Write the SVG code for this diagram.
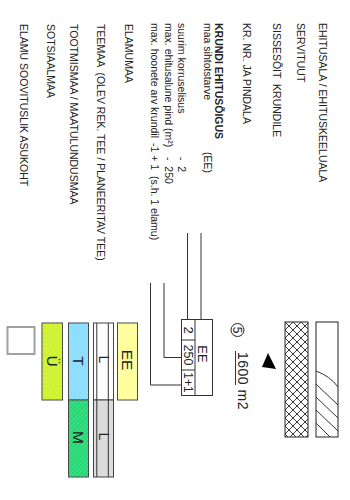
<svg xmlns="http://www.w3.org/2000/svg" width="350" height="500" viewBox="0 0 350 500">
<style>
.t{font-family:"Liberation Sans",Arial,sans-serif;font-size:10.5px;fill:#222}
.b{font-weight:bold}
.bar{stroke:#444;stroke-width:1}
.ln{fill:none;stroke:#333;stroke-width:1}
.big{font-family:"Liberation Sans",Arial,sans-serif;fill:#222}
</style>
<defs>
<pattern id="cross" width="8" height="8" patternUnits="userSpaceOnUse" x="285" y="322">
<path d="M0,0L8,8M8,0L0,8" stroke="#222" stroke-width="0.9" fill="none"/>
</pattern>
<pattern id="hatch" width="3" height="3" patternUnits="userSpaceOnUse" patternTransform="rotate(45)">
<line x1="0" y1="0" x2="0" y2="3" stroke="#fff" stroke-opacity="0.35" stroke-width="1"/>
</pattern>
</defs>
<g id="legend-text">
<text class="t" transform="translate(319,23) rotate(90)">EHITUSALA / EHITUSKEELUALA</text>
<text class="t" transform="translate(296.5,23) rotate(90)">SERVITUUT</text>
<text class="t" transform="translate(273,23) rotate(90)" xml:space="preserve">SISSESÕIT  KRUNDILE</text>
<text class="t" transform="translate(243,23) rotate(90)">KR. NR. JA PINDALA</text>
<text class="t b" transform="translate(214.5,23) rotate(90)">KRUNDI EHITUSÕIGUS</text>
<text class="t" transform="translate(203.5,23) rotate(90)">maa sihtotstarve</text>
<text class="t" transform="translate(203.5,152) rotate(90)">(EE)</text>
<text class="t" transform="translate(178,23) rotate(90)">suurim korruselisus</text>
<text class="t" transform="translate(178,157) rotate(90)" xml:space="preserve">-  2</text>
<text class="t" transform="translate(164.5,23) rotate(90)">max. ehitusalune pind (m²)</text>
<text class="t" transform="translate(164.5,157) rotate(90)" xml:space="preserve">-  250</text>
<text class="t" transform="translate(151,23) rotate(90)">max. hoonete arv krundil</text>
<text class="t" transform="translate(151,143) rotate(90)" xml:space="preserve">-1 + 1  (s.h. 1 elamu)</text>
<text class="t" transform="translate(124.5,24) rotate(90)">ELAMUMAA</text>
<text class="t" transform="translate(97,24) rotate(90)" xml:space="preserve">TEEMAA  (OLEV REK. TEE / PLANEERITAV TEE)</text>
<text class="t" transform="translate(70,24) rotate(90)">TOOTMISMAA / MAATULUNDUSMAA</text>
<text class="t" transform="translate(46.5,24) rotate(90)">SOTSIAALMAA</text>
<text class="t" transform="translate(20,24) rotate(90)">ELAMU SOOVITUSLIK ASUKOHT</text>
</g>
<g id="connectors">
<path class="ln" d="M187.5,233V319"/>
<path class="ln" d="M201,233V319"/>
<path class="ln" d="M164,283V357.5H181.5"/>
<path class="ln" d="M150.5,283V385H181.5"/>
</g>
<g id="ehitusala">
<rect x="316" y="322" width="22" height="115" fill="#fff" stroke="#222" stroke-width="1"/>
<path class="ln" d="M316,371Q330,376 338,387M316,384L338,405M316,397L338,418M316,410L338,431M316,423L330,437"/>
</g>
<g id="servituut">
<rect x="285" y="322" width="23" height="115" fill="url(#cross)" stroke="#222" stroke-width="1"/>
</g>
<g id="sissesoit">
<polygon points="268,353 262,367 276,369" fill="#000"/>
</g>
<g id="kr-nr">
<circle cx="237.5" cy="330" r="6.5" fill="none" stroke="#222" stroke-width="1"/>
<text class="big" font-size="12" text-anchor="middle" transform="translate(233.2,330) rotate(90)">5</text>
<text class="big" font-size="14" letter-spacing="0.5" transform="translate(238,352) rotate(90)">1600 m2</text>
<path class="ln" d="M235.5,351V385"/>
</g>
<g id="ehitusoigus-table">
<rect x="181.5" y="319.5" width="31" height="76" fill="#fff" stroke="#333" stroke-width="1"/>
<path class="ln" d="M195,319.5V395.5M181.5,340H195M181.5,370H195"/>
<text class="big" font-size="13" text-anchor="middle" transform="translate(198,354) rotate(90)">EE</text>
<text class="big" font-size="13" text-anchor="middle" transform="translate(183.5,330) rotate(90)">2</text>
<text class="big" font-size="12.5" text-anchor="middle" transform="translate(183.5,355) rotate(90)">250</text>
<text class="big" font-size="12" text-anchor="middle" transform="translate(183.5,382.5) rotate(90)">1+1</text>
</g>
<g id="elamumaa">
<rect class="bar" x="117.5" y="323" width="20" height="77" fill="#ffff99"/>
<rect x="117.5" y="323" width="20" height="77" fill="url(#hatch)"/>
<text class="big" font-size="15.5" text-anchor="middle" transform="translate(121.5,360) rotate(90)">EE</text>
</g>
<g id="teemaa">
<rect class="bar" x="93.5" y="323" width="20" height="77" fill="#fff"/>
<rect class="bar" x="93.5" y="400" width="20" height="77" fill="#dcdcdc"/>
<path class="ln" d="M96.8,323V477M108.3,323V477"/>
<text class="big" font-size="14" transform="translate(98.5,355.5) rotate(90)">L</text>
<text class="big" font-size="14" transform="translate(98.5,432.5) rotate(90)">L</text>
</g>
<g id="tootmismaa">
<rect class="bar" x="68.5" y="323" width="20" height="77" fill="#88dcff"/>
<rect class="bar" x="68.5" y="400" width="20" height="77" fill="#22d873"/>
<rect x="68.5" y="323" width="20" height="154" fill="url(#hatch)"/>
<text class="big" font-size="15.5" text-anchor="middle" transform="translate(72.5,361) rotate(90)">T</text>
<text class="big" font-size="15.5" text-anchor="middle" transform="translate(73,437.5) rotate(90)">M</text>
</g>
<g id="sotsiaalmaa">
<rect class="bar" x="42" y="323" width="20.5" height="77" fill="#ccf22a"/>
<rect x="42" y="323" width="20.5" height="77" fill="url(#hatch)"/>
<text class="big" font-size="15.5" text-anchor="middle" transform="translate(47,361) rotate(90)">Ü</text>
</g>
<g id="elamu-asukoht">
<rect x="7.5" y="327" width="27" height="27" fill="none" stroke="#a0a0a0" stroke-width="2"/>
</g>
</svg>
